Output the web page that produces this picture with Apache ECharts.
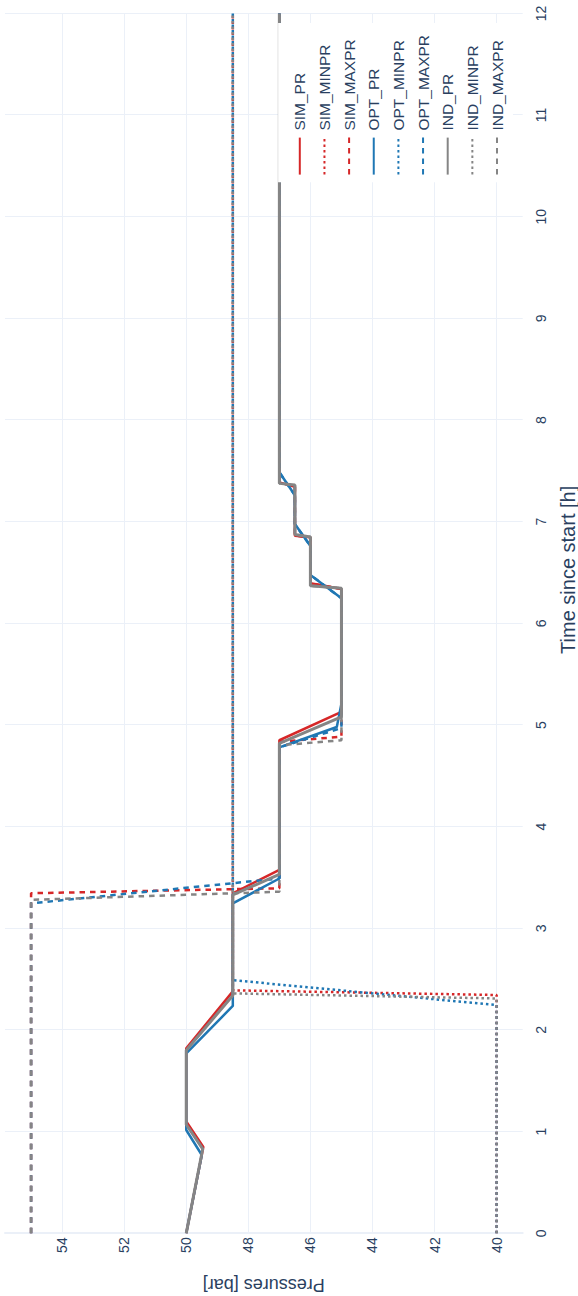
<!DOCTYPE html>
<html>
<head>
<meta charset="utf-8">
<script src="https://cdn.jsdelivr.net/npm/echarts@6/dist/echarts.min.js"></script>
<style>
  html, body { margin: 0; padding: 0; background: #fff; overflow: hidden; }
  body { width: 578px; height: 1296px; position: relative; }
  /* landscape chart turned a quarter turn counter-clockwise to fill the portrait page */
  #chart {
    position: absolute; left: 0; top: 0;
    width: 1296px; height: 578px;
    transform-origin: 0 0;
    transform: translate(0, 1296px) rotate(-90deg);
  }
</style>
</head>
<body>
<div id="chart"></div>
<script>
// Time axis [h] and pressure axis [bar]
const timeTicks = [0, 1, 2, 3, 4, 5, 6, 7, 8, 9, 10, 11, 12];
const pressureTicks = [40, 42, 44, 46, 48, 50, 52, 54];

// Pressure (PR) per source
const simPrTime = [0, 0.85, 1.10, 1.82, 2.38, 3.345, 3.575, 4.85, 5.13, 6.338, 6.394, 6.846, 6.862, 7.344, 7.387, 12];
const simPrVal  = [50, 49.45, 50, 50, 48.5, 48.5, 47, 47, 45, 45, 46, 46, 46.5, 46.5, 47, 47];
const optPrTime = [0, 0.77, 1.016, 1.77, 2.236, 3.246, 3.49, 4.78, 4.98, 5.21, 6.246, 6.476, 6.76, 6.977, 7.26, 7.486, 12];
const optPrVal  = [50, 49.5, 50, 50, 48.5, 48.5, 47, 47, 45.15, 45, 45, 46, 46, 46.5, 46.5, 47, 47];
const indPrTime = [0, 0.83, 1.07, 1.80, 2.34, 3.33, 3.53, 4.82, 5.08, 6.345, 6.37, 6.85, 6.875, 7.36, 7.377, 12];
const indPrVal  = [50, 49.47, 50, 50, 48.5, 48.5, 47, 47, 45, 45, 46, 46, 46.5, 46.5, 47, 47];

// Minimum pressure bound
const simMinTime = [0, 2.344, 2.39, 12];
const simMinVal  = [40, 40, 48.5, 48.5];
const optMinTime = [0, 2.245, 2.49, 12];
const optMinVal  = [40, 40, 48.5, 48.5];
const indMinTime = [0, 2.31, 2.36, 12];
const indMinVal  = [40, 40, 48.5, 48.5];

// Maximum pressure bound
const simMaxTime = [0, 3.345, 3.394, 4.835, 4.885, 6.338, 6.394, 6.846, 6.862, 7.344, 7.387, 12];
const simMaxVal  = [55, 55, 47, 47, 45, 45, 46, 46, 46.5, 46.5, 47, 47];
const optMaxTime = [0, 3.246, 3.49, 4.78, 4.97, 6.246, 6.476, 6.76, 6.977, 7.26, 7.486, 12];
const optMaxVal  = [55, 55, 47, 47, 45, 45, 46, 46, 46.5, 46.5, 47, 47];
const indMaxTime = [0, 3.28, 3.36, 4.80, 4.85, 6.345, 6.37, 6.85, 6.875, 7.36, 7.377, 12];
const indMaxVal  = [55, 55, 47, 47, 45, 45, 46, 46, 46.5, 46.5, 47, 47];

const RED = '#d62728', BLUE = '#1f77b4', GRAY = '#858585';
const INK = '#2a3f5f', GRID = '#ebf0f8';
const FONT = '"Liberation Sans", Arial, sans-serif';
const DOT = [2.5, 3], DASH = [5.5, 5];

function pairs(ts, vs) { return ts.map((t, i) => [t, vs[i]]); }

function line(name, ts, vs, color, width, type) {
  return {
    name, type: 'line', data: pairs(ts, vs),
    symbol: 'none', showSymbol: false, smooth: false,
    lineStyle: { color, width, type },
    itemStyle: { color },
    emphasis: { disabled: true },
    animation: false
  };
}

const series = [
  line('SIM_PR',    simPrTime,  simPrVal,  RED,  2.5, 'solid'),
  line('SIM_MINPR', simMinTime, simMinVal, RED,  2.5, DOT),
  line('SIM_MAXPR', simMaxTime, simMaxVal, RED,  2.5, DASH),
  line('OPT_PR',    optPrTime,  optPrVal,  BLUE, 2.5, 'solid'),
  line('OPT_MINPR', optMinTime, optMinVal, BLUE, 2.5, DOT),
  line('OPT_MAXPR', optMaxTime, optMaxVal, BLUE, 2.5, DASH),
  line('IND_PR',    indPrTime,  indPrVal,  GRAY, 3,   'solid'),
  line('IND_MINPR', indMinTime, indMinVal, GRAY, 2.5, DOT),
  line('IND_MAXPR', indMaxTime, indMaxVal, GRAY, 2.5, DASH)
];

const chart = echarts.init(document.getElementById('chart'), null, { renderer: 'svg' });
chart.setOption({
  backgroundColor: '#fff',
  animation: false,
  textStyle: { fontFamily: FONT, color: INK },
  grid: { left: 62.7, right: 13.4, top: 5, bottom: 55.3, containLabel: false, outerBoundsMode: 'none' },
  xAxis: {
    type: 'value', min: timeTicks[0], max: timeTicks[timeTicks.length - 1], interval: 1,
    name: 'Time since start [h]', nameLocation: 'middle', nameGap: 35,
    nameTextStyle: { fontFamily: FONT, fontSize: 20, color: INK, padding: [0, 0, 0, 107] },
    axisLine: { show: false }, axisTick: { show: false },
    axisLabel: { fontFamily: FONT, fontSize: 14, color: INK, margin: 11 },
    splitLine: { show: true, lineStyle: { color: GRID, width: 1 } }
  },
  yAxis: {
    type: 'value', min: 39.16, max: 55.84,
    name: 'Pressures [bar]', nameLocation: 'middle', nameGap: 43, nameRotate: 90,
    nameTextStyle: { fontFamily: FONT, fontSize: 18, color: INK },
    axisLine: { show: true, lineStyle: { color: GRID, width: 2 } },
    axisTick: { show: false, customValues: pressureTicks },
    axisLabel: { fontFamily: FONT, fontSize: 14, color: INK, margin: 4, customValues: pressureTicks },
    splitLine: { show: true, lineStyle: { color: GRID, width: 1 } }
  },
  legend: {
    orient: 'vertical', right: 23, bottom: 65,
    backgroundColor: '#fff',
    padding: [13.7, 12, 8, 6.7],
    itemWidth: 37, itemHeight: 14, itemGap: 8.65,
    itemStyle: { opacity: 0 },
    textStyle: { fontFamily: FONT, fontSize: 15.5, color: INK, width: 96, overflow: 'none', padding: [0, 0, 0, 2] },
    data: series.map(s => s.name),
    selectedMode: false
  },
  series
});
</script>
</body>
</html>
